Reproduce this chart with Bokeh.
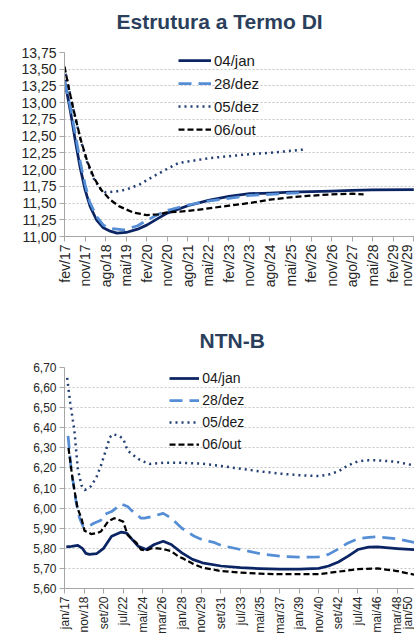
import math
from bokeh.plotting import figure
from bokeh.layouts import column
from bokeh.models import FixedTicker, Range1d, Legend, LegendItem
from bokeh.embed import file_html
from bokeh.resources import INLINE

FONT = "Liberation Sans"

# ---------------- Chart 1: Estrutura a Termo DI (x = months since fev/17) ----------------
di_tick_months = [0, 9, 18, 27, 36, 45, 54, 63, 72, 81, 90, 99, 108, 117, 126, 135, 144, 153]
di_tick_labels = ["fev/17", "nov/17", "ago/18", "mai/19", "fev/20", "nov/20", "ago/21", "mai/22",
                  "fev/23", "nov/23", "ago/24", "mai/25", "fev/26", "nov/26", "ago/27", "mai/28",
                  "fev/29", "nov/29"]
di_y_ticks = [11.0, 11.25, 11.5, 11.75, 12.0, 12.25, 12.5, 12.75, 13.0, 13.25, 13.5, 13.75]
di_y_labels = ["11,00", "11,25", "11,50", "11,75", "12,00", "12,25", "12,50", "12,75",
               "13,00", "13,25", "13,50", "13,75"]

di_jan_m = [0, 2.5, 4.7, 6.8, 9, 11.2, 14, 17, 20, 23, 27, 32, 36, 41, 45, 54, 63, 72, 81, 90,
            99, 108, 117, 126, 135, 153]
di_jan_v = [13.34, 12.89, 12.44, 12.04, 11.70, 11.45, 11.25, 11.13, 11.08, 11.05, 11.06, 11.11,
            11.17, 11.27, 11.35, 11.46, 11.54, 11.60, 11.64, 11.65, 11.665, 11.67, 11.68, 11.69,
            11.695, 11.70]

di_dez28_m = [0, 2.5, 5, 7, 9, 11, 14, 17, 20, 26, 32, 36, 41, 45, 54, 63, 72, 81, 90, 100, 104]
di_dez28_v = [13.32, 12.95, 12.48, 12.10, 11.78, 11.52, 11.30, 11.17, 11.12, 11.10, 11.16, 11.24,
              11.33, 11.39, 11.47, 11.53, 11.57, 11.615, 11.63, 11.65, 11.655]

di_dez05_m = [0, 4, 7, 10, 13, 16, 18, 22, 27, 33, 39, 45, 50, 54, 63, 72, 81, 90, 99, 105]
di_dez05_v = [13.52, 12.88, 12.45, 12.10, 11.85, 11.70, 11.66, 11.67, 11.70, 11.78, 11.90, 12.01,
              12.10, 12.12, 12.17, 12.20, 12.23, 12.25, 12.28, 12.30]

di_out_m = [0, 2, 4, 7, 10, 13, 16, 20, 24, 30, 36, 41, 45, 54, 63, 72, 81, 90, 100, 108, 117,
            126, 131]
di_out_v = [13.54, 13.20, 12.89, 12.46, 12.12, 11.87, 11.70, 11.55, 11.45, 11.36, 11.32, 11.33,
            11.36, 11.38, 11.42, 11.46, 11.50, 11.55, 11.59, 11.61, 11.63, 11.64, 11.63]

# ---------------- Chart 2: NTN-B (x = months since jan/17) ----------------
nb_tick_months = [0, 22, 44, 66, 88, 110, 132, 154, 176, 198, 220, 242, 264, 286, 308, 330,
                  352, 374, 396]
nb_tick_labels = ["jan/17", "nov/18", "set/20", "jul/22", "mai/24", "mar/26", "jan/28", "nov/29",
                  "set/31", "jul/33", "mai/35", "mar/37", "jan/39", "nov/40", "set/42", "jul/44",
                  "mai/46", "mar/48", "jan/50"]
nb_y_ticks = [5.6, 5.7, 5.8, 5.9, 6.0, 6.1, 6.2, 6.3, 6.4, 6.5, 6.6, 6.7]
nb_y_labels = ["5,60", "5,70", "5,80", "5,90", "6,00", "6,10", "6,20", "6,30", "6,40", "6,50",
               "6,60", "6,70"]

nb_jan_m = [2, 8, 15, 20, 24, 28, 36, 41, 44, 53, 64, 70, 75, 83, 92, 101, 111, 120, 132, 144,
            155, 176, 198, 220, 242, 264, 286, 297, 308, 319, 330, 342, 352, 374, 396, 404]
nb_jan_v = [5.807, 5.81, 5.815, 5.80, 5.775, 5.77, 5.773, 5.79, 5.80, 5.86, 5.881, 5.876, 5.85,
            5.81, 5.794, 5.819, 5.835, 5.819, 5.777, 5.745, 5.728, 5.712, 5.704, 5.699, 5.696,
            5.696, 5.70, 5.712, 5.732, 5.761, 5.794, 5.806, 5.807, 5.799, 5.793, 5.789]

nb_dez28_m = [4, 7.5, 13, 17, 21, 25, 33, 41, 44, 53, 64, 71, 75, 81, 86, 90, 98, 111, 120, 132,
              146, 155, 169, 176, 198, 220, 242, 264, 286, 297, 308, 319, 330, 342, 352, 374,
              396, 402]
nb_dez28_v = [6.36, 6.196, 6.032, 5.95, 5.909, 5.904, 5.925, 5.94, 5.967, 5.983, 6.02, 6.008,
              5.99, 5.97, 5.95, 5.95, 5.958, 5.974, 5.95, 5.90, 5.86, 5.843, 5.828, 5.815, 5.794,
              5.773, 5.761, 5.756, 5.758, 5.77, 5.797, 5.827, 5.848, 5.855, 5.857, 5.847, 5.827,
              5.819]

nb_dez05_m = [3, 6.4, 11, 15, 19, 23, 30, 36, 41, 47, 51, 54.5, 61, 66, 71, 77, 83, 90, 96, 111,
              132, 155, 176, 198, 220, 242, 264, 286, 297, 308, 319, 330, 342, 352, 374, 396, 403]
nb_dez05_v = [6.648, 6.525, 6.39, 6.196, 6.114, 6.09, 6.11, 6.155, 6.212, 6.295, 6.352, 6.368,
              6.36, 6.346, 6.286, 6.265, 6.245, 6.23, 6.22, 6.226, 6.226, 6.221, 6.21, 6.196,
              6.183, 6.172, 6.164, 6.16, 6.167, 6.183, 6.213, 6.233, 6.238, 6.238, 6.23, 6.21,
              6.205]

nb_out_m = [4.5, 9, 14.6, 19, 22.5, 30, 36, 41, 49, 56, 66, 71, 75, 81, 86, 92, 98, 105, 113,
            120, 128, 133, 144, 155, 176, 198, 220, 242, 264, 286, 308, 330, 352, 374, 396, 404]
nb_out_v = [6.30, 6.147, 6.00, 5.95, 5.888, 5.871, 5.875, 5.884, 5.933, 5.95, 5.933, 5.867,
            5.85, 5.827, 5.794, 5.789, 5.80, 5.80, 5.794, 5.786, 5.76, 5.75, 5.724, 5.704, 5.687,
            5.679, 5.674, 5.671, 5.671, 5.671, 5.684, 5.696, 5.70, 5.687, 5.666, 5.658]

series_names = ["04/jan", "28/dez", "05/dez", "06/out"]
series_colors = ["#0B2463", "#558ED5", "#243F73", "#000000"]
series_dash = ["solid", "13 7", "2 4", "6 3"]
series_width = [2.75, 2.75, 2.5, 2.25]

TITLE_COLOR = "#2B3F5C"
AXIS_COLOR = "#A6A6A6"
LABEL_COLOR = "#262626"


def make_chart(title, title_size, title_offset, title_pad, xs, ys, x_end, x_ticks, x_labels,
               y_start, y_end, y_ticks, y_labels, frame_w, frame_h, b_left, b_top, b_bottom,
               tick_size, legend_size, legend_loc, legend_glyph_w, legend_spacing):
    p = figure(frame_width=frame_w, frame_height=frame_h, output_backend="svg",
               toolbar_location=None, x_range=Range1d(0, x_end),
               y_range=Range1d(y_start, y_end), min_border_left=b_left, min_border_right=0,
               min_border_top=b_top, min_border_bottom=b_bottom)
    p.outline_line_color = None
    p.background_fill_color = "white"
    p.border_fill_color = "white"

    p.title.text = title
    p.title.align = "left"
    p.title.offset = title_offset
    p.title.standoff = 0
    p.title.padding = dict(left=0, right=0, top=0, bottom=title_pad)
    p.title.text_font = FONT
    p.title.text_font_size = title_size
    p.title.text_font_style = "bold"
    p.title.text_color = TITLE_COLOR

    p.xgrid.grid_line_color = None
    p.ygrid.grid_line_color = "#C4C4C4"
    p.ygrid.grid_line_dash = "2 2"
    p.ygrid.grid_line_width = 1

    p.xaxis.ticker = FixedTicker(ticks=x_ticks)
    p.xaxis.major_label_overrides = {t: l for t, l in zip(x_ticks, x_labels)}
    p.xaxis.major_label_orientation = math.pi / 2
    p.yaxis.ticker = FixedTicker(ticks=y_ticks)
    p.yaxis.major_label_overrides = {t: l for t, l in zip(y_ticks, y_labels)}

    for ax in (p.xaxis, p.yaxis):
        ax.axis_line_color = AXIS_COLOR
        ax.major_tick_line_color = AXIS_COLOR
        ax.major_tick_out = 5
        ax.major_tick_in = 0
        ax.minor_tick_line_color = None
        ax.major_label_text_font = FONT
        ax.major_label_text_font_size = tick_size
        ax.major_label_text_color = LABEL_COLOR
        ax.major_label_standoff = 3

    renderers = []
    for i in range(4):
        r = p.line(xs[i], ys[i], line_color=series_colors[i], line_width=series_width[i],
                   line_dash=series_dash[i], line_join="round")
        renderers.append(r)

    legend = Legend(items=[LegendItem(label=series_names[i], renderers=[renderers[i]])
                           for i in range(4)],
                    location=legend_loc)
    legend.padding = 0
    legend.margin = 0
    legend.border_line_color = None
    legend.background_fill_alpha = 0
    legend.glyph_width = legend_glyph_w
    legend.glyph_height = 20
    legend.label_height = 20
    legend.label_standoff = 3
    legend.spacing = legend_spacing
    legend.label_text_font = FONT
    legend.label_text_font_size = legend_size
    legend.label_text_color = "#1A1A1A"
    p.add_layout(legend)
    return p


p1 = make_chart("Estrutura a Termo DI", "21px", 52, 20,
                [di_jan_m, di_dez28_m, di_dez05_m, di_out_m],
                [di_jan_v, di_dez28_v, di_dez05_v, di_out_v],
                153.3, di_tick_months, di_tick_labels, 11.0, 13.75, di_y_ticks, di_y_labels,
                350, 184, 64, 52, 50, "14px", "15px", (114, 97), 33, 3)

p2 = make_chart("NTN-B", "21px", 135, 16,
                [nb_jan_m, nb_dez28_m, nb_dez05_m, nb_out_m],
                [nb_jan_v, nb_dez28_v, nb_dez05_v, nb_out_v],
                406, nb_tick_months, nb_tick_labels, 5.6, 6.7, nb_y_ticks, nb_y_labels,
                361, 221, 53, 77, 48, "12px", "14px", (129, 134), 30, 2)

layout = column(p1, p2, spacing=0)
open("out.html", "w").write(file_html(layout, INLINE))
